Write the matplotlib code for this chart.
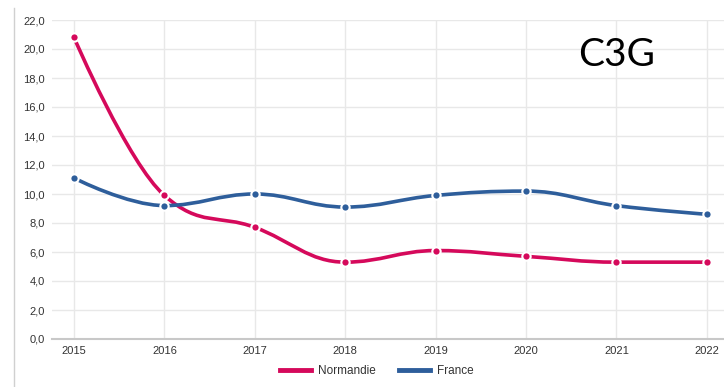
import matplotlib.pyplot as plt
from matplotlib.path import Path
from matplotlib.patches import PathPatch
from matplotlib.lines import Line2D

years = [2015, 2016, 2017, 2018, 2019, 2020, 2021, 2022]
normandie = [20.8, 9.9, 7.7, 5.3, 6.1, 5.7, 5.3, 5.3]
france = [11.1, 9.2, 10.0, 9.1, 9.9, 10.2, 9.2, 8.6]
yticks = [0, 2, 4, 6, 8, 10, 12, 14, 16, 18, 20, 22]

col_norm = "#d5095b"
col_fr = "#2e5e9b"


def spline_path(xs, ys, smoothing=1.5):
    # highcharts-like spline: bezier control points from neighbours
    n = len(xs)
    left = [None] * n
    right = [None] * n
    for i in range(n):
        x, y = xs[i], ys[i]
        if i == 0 or i == n - 1:
            left[i] = (x, y)
            right[i] = (x, y)
            continue
        lx, ly = xs[i - 1], ys[i - 1]
        nx, ny = xs[i + 1], ys[i + 1]
        d = smoothing + 1
        lcx = (smoothing * x + lx) / d
        lcy = (smoothing * y + ly) / d
        rcx = (smoothing * x + nx) / d
        rcy = (smoothing * y + ny) / d
        corr = (rcy - lcy) * (rcx - x) / (rcx - lcx) + y - rcy
        lcy += corr
        rcy += corr
        if lcy > ly and lcy > y:
            lcy = max(ly, y)
            rcy = 2 * y - lcy
        elif lcy < ly and lcy < y:
            lcy = min(ly, y)
            rcy = 2 * y - lcy
        if rcy > ny and rcy > y:
            rcy = max(ny, y)
            lcy = 2 * y - rcy
        elif rcy < ny and rcy < y:
            rcy = min(ny, y)
            lcy = 2 * y - rcy
        left[i] = (lcx, lcy)
        right[i] = (rcx, rcy)
    verts = [(xs[0], ys[0])]
    codes = [Path.MOVETO]
    for i in range(1, n):
        verts += [right[i - 1], left[i], (xs[i], ys[i])]
        codes += [Path.CURVE4] * 3
    return Path(verts, codes)


fig = plt.figure(figsize=(7.24, 3.87), dpi=100)
ax = fig.add_axes([52 / 724, 1 - 339 / 387, 1 - 52 / 724, (339 - 20) / 387])

for vals, col in [(normandie, col_norm), (france, col_fr)]:
    p = spline_path(years, vals)
    ax.add_patch(PathPatch(p, facecolor="none", edgecolor=col, lw=2.6,
                           capstyle="round", zorder=3))
    ax.plot(years, vals, "o", ms=6, color=col, mec="white", mew=1.5, zorder=4)

ax.set_xlim(2015 - 0.243, 2022 + 0.19)
ax.set_ylim(0, 22)
ax.set_xticks(years)
ax.set_yticks(yticks)
ax.set_yticklabels([f"{v:.1f}".replace(".", ",") for v in yticks])
ax.grid(True, color="#e8e8e8", lw=1)
ax.set_axisbelow(True)
for s in ["top", "right", "left"]:
    ax.spines[s].set_visible(False)
ax.spines["bottom"].set_color("#c8c8c8")
ax.spines["bottom"].set_linewidth(1.5)
ax.tick_params(axis="both", length=0, labelsize=8, labelcolor="#333333",
               pad=5)
for lab in ax.get_xticklabels() + ax.get_yticklabels():
    lab.set_family("Liberation Sans")

handles = [Line2D([], [], color=col_norm, lw=3.5),
           Line2D([], [], color=col_fr, lw=3.5)]
leg = fig.legend(handles, ["Normandie", "France"], loc="center",
                 bbox_to_anchor=(377 / 724, 1 - 371 / 387), ncol=2,
                 frameon=False, prop={"family": "Liberation Sans", "size": 8.5},
                 handlelength=2.6, columnspacing=2.0, handletextpad=0.6)
for t in leg.get_texts():
    t.set_color("#333333")

fig.text(617 / 724, 1 - 55 / 387, "C3G", fontsize=28, family="Lato",
         ha="center", va="center", color="black")

# thin frame line on the left of the screenshot
fig.add_artist(Line2D([14 / 724, 14 / 724], [0, 1 - 8 / 387],
                      transform=fig.transFigure, color="#d0d0d0", lw=1))

fig.savefig("out.png", dpi=100)
